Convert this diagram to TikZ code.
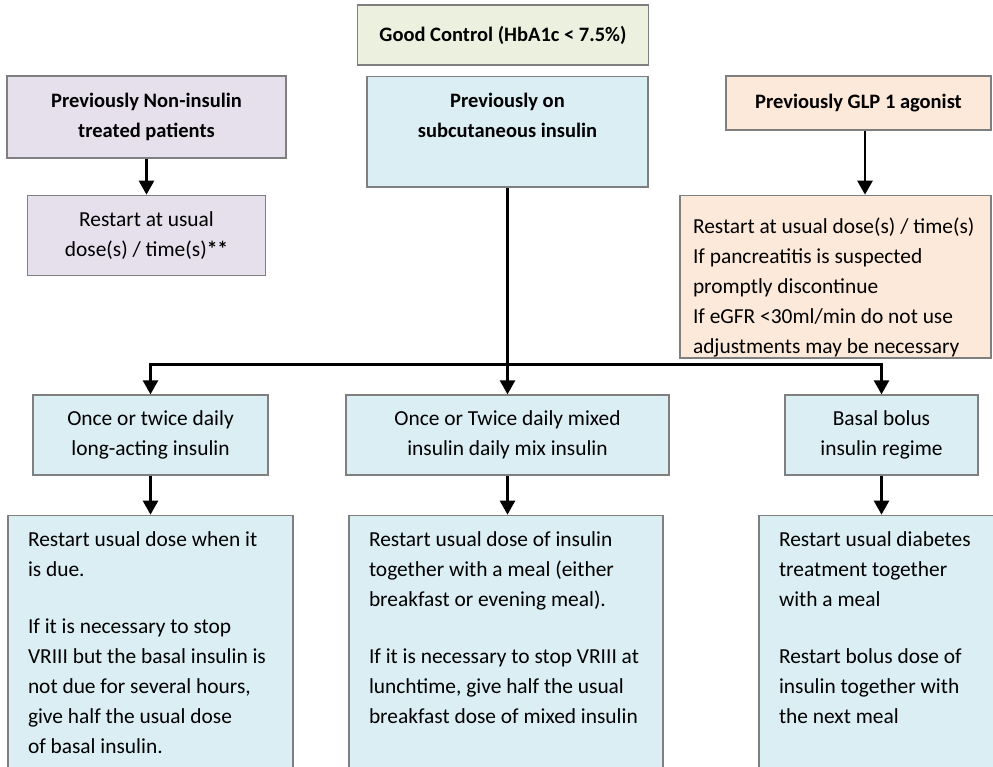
\documentclass[tikz,border=0pt]{standalone}
\usepackage{fontspec}
\setmainfont{Carlito}
\usetikzlibrary{arrows.meta, positioning}
\definecolor{goodfill}{HTML}{EBF1DE}
\definecolor{plumfill}{HTML}{E5E0EC}
\definecolor{skyfill}{HTML}{DAEEF3}
\definecolor{peachfill}{HTML}{FDE9D9}
\definecolor{edge}{HTML}{7F7F7F}
\newcommand\cellfont{\fontsize{21.4}{30}\selectfont}
\newcommand\headfont{\fontsize{20.5}{30}\selectfont\bfseries}
\tikzset{
  panel/.style  = {draw=edge, line width=1.3pt, fill=#1, align=flush center,
                   inner sep=0pt, font=\cellfont},
  head/.style   = {panel=#1, font=\headfont},
  advice/.style = {panel=skyfill, align=flush left, anchor=north, inner xsep=20pt,
                   inner ysep=16pt, text depth=260pt},
  flow/.style   = {-{Triangle[length=14pt,width=15pt]}, line width=2.6pt},
  bar/.style    = {line width=2.6pt, line cap=rect},
}
\begin{document}
\begin{tikzpicture}[x=1pt, y=-1pt]
\useasboundingbox (0,0) rectangle (993,766);
\clip (0,0) rectangle (993,766);

% top row
\node[head=goodfill, minimum width=291pt, minimum height=60pt] (good) at (503,35)
  {Good Control (HbA1c < 7.5\%)};
\node[head=plumfill, minimum width=279pt, minimum height=82pt] (noninsulin) at (146.5,117)
  {Previously Non-insulin\\treated patients};
\node[panel=plumfill, minimum width=238pt, minimum height=80pt, below=36pt of noninsulin] (usualdose)
  {Restart at usual\\dose(s) / time(s)\textbf{**}};
\node[head=skyfill, text width=269pt, inner xsep=6pt, inner ysep=16pt, text depth=64pt,
      anchor=north] (subcut) at (507.5,76)
  {Previously on\\subcutaneous insulin};
\node[head=peachfill, minimum width=265pt, minimum height=54pt] (glp) at (858.5,103)
  {Previously GLP 1 agonist};
\node[panel=peachfill, align=flush left, text width=285pt, inner xsep=13pt, inner ysep=23pt,
      text depth=101pt, below=64pt of glp, xshift=-23pt] (glpdose)
  {Restart at usual dose(s) / time(s)\\If pancreatitis is suspected\\promptly discontinue\\
   If eGFR <30ml/min do not use\\adjustments may be necessary};

% insulin regimes
\node[panel=skyfill, minimum width=235pt, minimum height=80pt] (longacting) at (150.5,435)
  {Once or twice daily\\long-acting insulin};
\node[panel=skyfill, minimum width=323pt, minimum height=80pt] (mixed) at (507.5,435)
  {Once or Twice daily mixed\\insulin daily mix insulin};
\node[panel=skyfill, minimum width=193pt, minimum height=80pt] (basalbolus) at (881.5,435)
  {Basal bolus\\insulin regime};

% advice boxes, cut off at the bottom
\node[advice, text width=245pt, below=39pt of longacting] (adviceA)
  {Restart usual dose when it\\is due.\\[27pt]If it is necessary to stop\\VRIII but the basal insulin is\\
   not due for several hours,\\give half the usual dose\\of basal insulin.};
\node[advice, text width=274pt, below=39pt of mixed, xshift=-1.5pt] (adviceB)
  {Restart usual dose of insulin\\together with a meal (either\\breakfast or evening meal).\\[27pt]
   If it is necessary to stop VRIII at\\lunchtime, give half the usual\\breakfast dose of mixed insulin};
\node[advice, text width=240pt, below=39pt of basalbolus, xshift=17.5pt] (adviceC)
  {Restart usual diabetes\\treatment together\\with a meal\\[27pt]Restart bolus dose of\\
   insulin together with\\the next meal};

\path (subcut.south) ++(0,177) coordinate (split);

\draw[flow] (noninsulin) -- (usualdose);
\draw[flow] ([xshift=6.5pt]glp.south) -- ([xshift=6.5pt]glp.south |- glpdose.north);
\draw[bar] (longacting.north |- split) -- (basalbolus.north |- split);
\draw[flow] (subcut) -- (mixed);
\draw[flow] (longacting.north |- split) -- (longacting);
\draw[flow] (basalbolus.north |- split) -- (basalbolus);
\draw[flow] (longacting) -- (adviceA);
\draw[flow] (mixed.south) -- (mixed.south |- adviceB.north);
\draw[flow] (basalbolus.south) -- (basalbolus.south |- adviceC.north);

\end{tikzpicture}
\end{document}
